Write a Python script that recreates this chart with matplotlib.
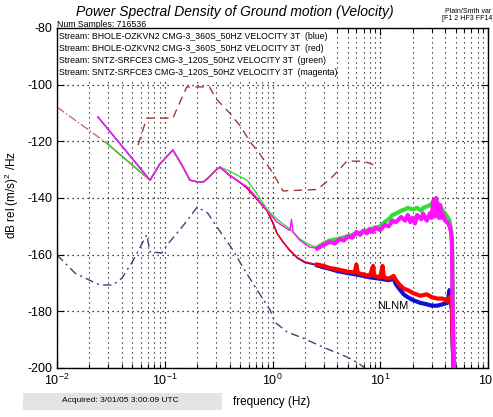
import numpy as np
import matplotlib
matplotlib.use("Agg")
import matplotlib.pyplot as plt
from matplotlib.patches import Rectangle
from matplotlib.ticker import LogLocator, FixedLocator

plt.rcParams['font.family'] = ['Liberation Sans', 'DejaVu Sans']
plt.rcParams['mathtext.fontset'] = 'custom'
plt.rcParams['mathtext.rm'] = 'Liberation Sans'
plt.rcParams['mathtext.it'] = 'Liberation Sans:italic'

# ---------------- data ----------------
title = "Power Spectral Density of Ground motion (Velocity)"
legend_lines = [
    "Stream: BHOLE-OZKVN2 CMG-3_360S_50HZ VELOCITY 3T  (blue)",
    "Stream: BHOLE-OZKVN2 CMG-3_360S_50HZ VELOCITY 3T  (red)",
    "Stream: SNTZ-SRFCE3 CMG-3_120S_50HZ VELOCITY 3T  (green)",
    "Stream: SNTZ-SRFCE3 CMG-3_120S_50HZ VELOCITY 3T  (magenta)",
]
num_samples_text = "Num Samples: 716536"
acquired_text = "Acquired: 3/01/05 3:00:09 UTC"

yticks = [-80, -100, -120, -140, -160, -180, -200]

# Peterson noise models
nhnm_f = [0.0565, 0.068, 0.119, 0.16, 0.26, 0.30, 0.40, 0.50, 0.62, 0.75, 1.0, 1.25, 2.6, 3.5, 4.9, 7.0, 9.0]
nhnm_db = [-121.3, -111.8, -111.8, -100.8, -100.8, -105.0, -110.0, -114.5, -120.2, -124.0, -131.0, -137.5, -137.0, -133.0, -127.0, -127.0, -128.5]

nlnm_f = [0.01, 0.0147, 0.02, 0.025, 0.033, 0.04, 0.05, 0.068, 0.073, 0.094, 0.105, 0.15, 0.2, 0.25, 0.31,
          0.43, 0.53, 0.72, 0.95, 1.05, 1.37, 1.9, 3.1, 4.9, 6.1, 7.2]
nlnm_db = [-160.1, -166.5, -169.0, -170.7, -170.7, -168.3, -162.6, -153.0, -159.0, -159.4, -156.6, -149.5, -143.2,
           -145.3, -150.6, -158.4, -164.4, -172.5, -179.5, -183.8, -187.3, -189.4, -193.0, -196.1, -198.0, -200.0]

upper_dashdot_f = [0.01, 0.028]
upper_dashdot_db = [-107.9, -120.2]

# shared microseism part of all four streams
common_f = [0.073, 0.09, 0.119, 0.145, 0.171, 0.2, 0.227, 0.26, 0.30, 0.325]
common_db = [-133.7, -128.0, -123.1, -128.5, -133.7, -134.3, -134.4, -132.5, -130.1, -129.1]

blue_low_f = [0.024]
blue_low_db = [-111.4]
red_low_f = [0.028]
red_low_db = [-120.2]

blue_f = [0.4, 0.5, 0.58, 0.7, 0.89, 1.0, 1.1, 1.25, 1.45, 1.7, 2.0, 2.6, 3.0, 3.4, 4.0, 5.0, 6.0, 7.0, 8.0, 10,
          12, 13.3, 14, 15, 16.5, 18, 20, 23.5, 27, 30, 34, 38, 42, 44, 45, 46.3, 47, 48]
blue_db = [-132.0, -134.5, -136.5, -140.0, -144.5, -148.5, -152.4, -155.5, -158.6, -161.2, -162.8, -163.8, -164.5,
           -165.0, -165.8, -166.5, -167.0, -167.5, -168.0, -168.5, -169.0, -168.5, -170.5, -172.0, -174.0, -175.0,
           -176.0, -177.0, -177.5, -178.0, -178.0, -177.5, -177.0, -172.5, -175.0, -180.0, -192.0, -200.0]

red_f = [0.4, 0.5, 0.58, 0.7, 0.89, 1.0, 1.1, 1.25, 1.45, 1.7, 2.0, 2.6, 3.0, 3.4, 4.0, 5.0, 5.8, 6.0, 6.2, 7.0,
         8.0, 8.6, 8.8, 10, 10.5, 10.8, 12, 13.3, 14, 15, 16.5, 18, 20, 23.5, 27, 30, 34, 38, 42, 44, 45.5, 46.3,
         47, 48]
red_db = [-132.0, -134.5, -136.5, -140.0, -144.5, -148.5, -152.4, -155.5, -158.4, -161.0, -162.5, -163.5, -164.0,
          -164.7, -165.2, -166.0, -166.3, -163.5, -166.5, -167.0, -167.5, -164.0, -167.5, -168.0, -164.0, -168.0,
          -168.5, -167.5, -169.0, -170.5, -172.0, -172.5, -173.5, -174.5, -174.0, -175.0, -175.5, -175.5, -176.5,
          -175.0, -177.0, -179.0, -190.0, -200.0]

green_f = [0.4, 0.5, 0.58, 0.7, 0.89, 1.1, 1.45, 1.8, 2.2, 2.6, 3.0, 3.4, 4.0, 5.0, 6.0, 7.0, 8.0, 9.0, 10, 11, 12,
           13, 14, 15.6, 17, 18, 20, 22, 24, 25, 27, 29, 31, 33.5, 36, 38, 40, 42, 44, 45.5, 46.3, 46.8, 47.5, 48.5]
green_db = [-130.5, -132.5, -133.7, -138.0, -144.0, -147.5, -151.0, -154.5, -156.5, -157.5, -156.0, -155.0,
            -154.5, -153.5, -152.5, -152.0, -151.0, -150.5, -150.0, -148.5, -147.5, -146.0, -145.5, -144.5, -144.0,
            -143.5, -144.0, -143.5, -144.5, -143.5, -143.0, -142.5, -141.5, -141.4, -143.0, -144.5, -145.5, -146.7,
            -148.0, -152.0, -155.0, -165.0, -185.0, -200.0]

magenta_f = [0.4, 0.5, 0.58, 0.7, 0.89, 1.1, 1.45, 1.5, 1.55, 1.8, 2.2, 2.6, 3.0, 3.4, 3.8, 4.2, 4.6, 5.0, 5.5,
             6.0, 6.5, 7.0, 7.5, 8.0, 8.5, 9.0, 10, 11, 12, 13, 14, 15.6, 17, 18, 19, 20, 21, 22, 24, 25, 27, 29,
             30, 31, 32, 33, 35, 36, 37, 38, 40, 42, 44, 45.5, 46.3, 46.8, 47.5, 48.5]
magenta_db = [-132.0, -134.5, -136.0, -139.5, -144.5, -148.5, -151.5, -147.5, -152.0, -155.0, -157.3, -157.8,
              -156.5, -155.5, -156.0, -154.5, -155.0, -153.5, -154.0, -152.0, -153.0, -151.5, -152.5, -151.0,
              -152.0, -150.5, -151.3, -149.5, -150.0, -148.0, -148.5, -146.7, -148.0, -146.0, -148.5, -147.0,
              -149.0, -146.0, -147.5, -145.5, -148.0, -145.3, -147.0, -141.0, -146.5, -140.0, -147.0, -142.5,
              -147.0, -145.5, -148.0, -148.5, -150.0, -152.0, -156.0, -174.0, -190.0, -200.0]

nlnm_label = "NLNM"
nlnm_label_pos = (9.3, -178.0)

# ---------------- figure ----------------
W, H = 493, 417
fig = plt.figure(figsize=(W / 100, H / 100), dpi=100)
ax = fig.add_axes([57 / W, 1 - 368 / H, (488 - 57) / W, (368 - 28) / H])
ax.set_xscale('log')
ax.set_xlim(1e-2, 1e2)
ax.set_ylim(-200, -80)
ax.set_yticks(yticks)
ax.set_yticklabels([str(v) for v in yticks])
ax.xaxis.set_major_locator(FixedLocator([1e-2, 1e-1, 1e0, 1e1, 1e2]))
ax.xaxis.set_minor_locator(LogLocator(base=10, subs=np.arange(2, 10), numticks=20))
ax.tick_params(which='both', direction='in', top=True, right=True, labelsize=9, width=0.8)
ax.tick_params(which='major', length=5)
ax.tick_params(which='minor', length=3)
ax.set_axisbelow(True)
ax.grid(which='major', axis='both', linestyle=(0, (1, 3)), color='k', linewidth=0.9)
ax.grid(which='minor', axis='x', linestyle=(0, (1, 3.5)), color='k', linewidth=0.8)
for s in ax.spines.values():
    s.set_linewidth(1.0)

# white box behind stream texts
ax.add_patch(Rectangle((0, 0.848), (327 - 57) / (488 - 57), 0.152, transform=ax.transAxes,
                       facecolor='white', edgecolor='none', zorder=1))

# noise models
ax.plot(upper_dashdot_f, upper_dashdot_db, color='#c87070', linestyle='-.', linewidth=1.0, zorder=2)
ax.plot(nhnm_f, nhnm_db, color='#a03838', linestyle=(0, (6, 4)), linewidth=1.0, zorder=2)
ax.plot(nlnm_f, nlnm_db, color='#404078', linestyle=(0, (6, 3, 1.5, 3)), linewidth=1.0, zorder=2)

series = [
    (blue_low_f + common_f + blue_f, blue_low_db + common_db + blue_db, '#1010d0'),
    (red_low_f + common_f + red_f, red_low_db + common_db + red_db, '#ff0000'),
    (red_low_f + common_f + green_f, red_low_db + common_db + green_db, '#30e030'),
    (blue_low_f + common_f + magenta_f, blue_low_db + common_db + magenta_db, '#ff10ff'),
]
for f, d, c in series:
    f = np.asarray(f)
    d = np.asarray(d)
    ax.plot(f, d, color=c, linewidth=1.0, zorder=3)
    m = f >= 2.5
    ax.plot(f[m], d[m], color=c, linewidth=3.0, zorder=3, solid_joinstyle='round')

ax.text(nlnm_label_pos[0], nlnm_label_pos[1], nlnm_label, fontsize=8, color='k', va='center', ha='left', zorder=4)

# stream texts
ax.text(0.0, 1.0 + 3 / 340, num_samples_text, transform=ax.transAxes, fontsize=6.3, va='center', ha='left')
for i, line in enumerate(legend_lines):
    py = 37 + 12 * i
    ax.text(0.004, 1 - (py - 28) / 340, line, transform=ax.transAxes, fontsize=6.3,
            va='center', ha='left', zorder=5)

# titles and labels
fig.text(235 / W, 1 - 12 / H, title, fontsize=10, style='italic', ha='center', va='center')
fig.text(468 / W, 1 - 15 / H, "Plain/Smth var\n[F1 2 HF3 FF14]", fontsize=5, ha='center', va='center',
         linespacing=0.9)
fig.text(12 / W, 1 - 195 / H, r'dB rel (m/s)$^2$ /Hz', rotation=90, fontsize=8.5, ha='center', va='center')
fig.text(272 / W, 1 - 402 / H, 'frequency (Hz)', fontsize=8.5, ha='center', va='center')
fig.patches.append(Rectangle((23 / W, 1 - 410 / H), (222 - 23) / W, 17 / H, transform=fig.transFigure,
                             facecolor='#e4e4e4', edgecolor='none', figure=fig))
fig.text(120 / W, 1 - 401 / H, acquired_text, fontsize=6, ha='center', va='center')

fig.savefig('out.png', dpi=100)
